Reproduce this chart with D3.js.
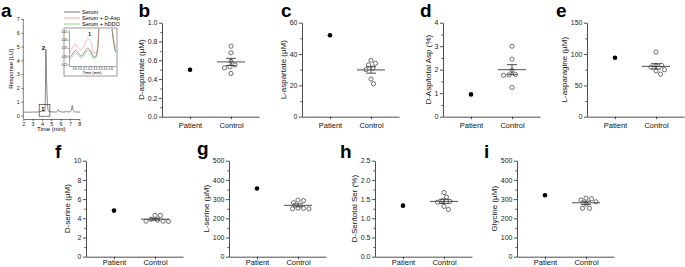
<!DOCTYPE html>
<html lang="en">
<head>
<meta charset="utf-8">
<title>Serum amino acids: patient vs control</title>
<script src="https://cdn.jsdelivr.net/npm/d3@7"></script>
<style>
  body { margin: 0; background: #fff; }
  svg { display: block; font-family: "Liberation Sans", Arial, sans-serif; }
  .axis path, .axis line { stroke: #222; stroke-width: 0.8; }
  .axis text { font-size: 7px; fill: #222; }
  .ytitle { font-size: 8px; fill: #111; }
  .letter { font-size: 19px; font-weight: bold; fill: #000; }
  .chrom .axis text { font-size: 5.5px; }
  .chrom .axis path, .chrom .axis line { stroke-width: 0.6; }
  .inset .axis text { font-size: 3px; }
  .inset .axis path, .inset .axis line { stroke-width: 0.4; }
</style>
</head>
<body>
<div id="chart"></div>
<script>
// ---- data ----
const groups = ["Patient", "Control"];

// panel b-i: one patient value, seven controls
const dAspPatient = 0.50;
const dAspControl = [0.75, 0.68, 0.59, 0.55, 0.53, 0.52, 0.46];
const lAspPatient = 52;
const lAspControl = [36, 34, 33, 31, 30, 24, 21];
const dAspPctPatient = 0.95;
const dAspPctControl = [3.0, 2.45, 1.97, 1.78, 1.76, 1.8, 1.25];
const lAsnPatient = 94;
const lAsnControl = [103, 82, 82, 79, 75, 73, 68];
const dSerPatient = 4.8;
const dSerControl = [4.3, 4.3, 3.9, 3.7, 3.7, 3.68, 3.8];
const lSerPatient = 355;
const lSerControl = [292, 281, 295, 250, 252, 249, 253];
const dSerPctPatient = 1.33;
const dSerPctControl = [1.67, 1.55, 1.46, 1.44, 1.42, 1.31, 1.23];
const glyPatient = 320;
const glyControl = [305, 295, 286, 302, 274, 252, 252];

// y tick labels
const ticksDAsp = [0, 0.2, 0.4, 0.6, 0.8, 1.0];
const ticksLAsp = [0, 20, 40, 60];
const ticksDAspPct = [0, 1, 2, 3, 4];
const ticksLAsn = [0, 50, 100, 150];
const ticksDSer = [0, 2, 4, 6, 8, 10];
const ticksLSer = [0, 100, 200, 300, 400, 500];
const ticksDSerPct = [0, 0.5, 1.0, 1.5, 2.0, 2.5];
const ticksGly = [0, 100, 200, 300, 400, 500];

// panel a: chromatogram (time in min, response in LU)
const chromTime = [2, 2.5, 3, 3.5, 3.9, 4.05, 4.15, 4.22, 4.3, 4.36, 4.42, 4.5, 4.6, 4.7, 5.0, 5.5,
  5.65, 5.75, 5.85, 6.0, 6.2, 6.5, 6.6, 6.7, 7.0, 7.15, 7.25, 7.35, 7.5, 7.8, 8.1];
const chromSerum = [0.25, 0.24, 0.25, 0.25, 0.3, 0.32, 0.33, 0.3, 0.3, 1.2, 4.8, 2.5, 0.8, 0.32, 0.26, 0.25,
  0.3, 0.42, 0.3, 0.27, 0.25, 0.26, 0.33, 0.26, 0.27, 0.4, 0.72, 0.38, 0.26, 0.25, 0.25];
const chromTicksX = [2, 3, 4, 5, 6, 7, 8];
const chromTicksY = [0, 1, 2, 3, 4, 5, 6, 7];

// inset: zoom on peak 1
const insetTime = [3.8, 3.86, 3.92, 3.98, 4.04, 4.1, 4.16, 4.22, 4.28, 4.32, 4.36, 4.4, 4.6, 4.64, 4.68, 4.7];
const insetSerum = [0.29, 0.31, 0.335, 0.32, 0.30, 0.325, 0.35, 0.33, 0.295, 0.30, 0.36, 0.6, 0.6, 0.45, 0.36, 0.33];
const insetDAsp = [0.31, 0.35, 0.375, 0.35, 0.34, 0.37, 0.405, 0.39, 0.32, 0.32, 0.37, 0.6, 0.6, 0.46, 0.38, 0.35];
const insetHDDO = [0.28, 0.295, 0.32, 0.305, 0.29, 0.31, 0.335, 0.32, 0.285, 0.29, 0.35, 0.6, 0.6, 0.44, 0.35, 0.32];
const insetTicksX = [3.9, 4.0, 4.1, 4.2, 4.3, 4.4, 4.5, 4.6];
const insetTicksY = [0.25, 0.3, 0.35, 0.4, 0.45];

const legendNames = ["Serum", "Serum + D-Asp", "Serum + hDDO"];
const legendColors = ["#555", "#f08a8a", "#6cc070"];

// ---- svg ----
const svg = d3.select("#chart").append("svg")
  .attr("width", 685).attr("height", 267);
svg.append("rect").attr("width", 685).attr("height", 267).attr("fill", "#fff");

// ---- scatter panels ----
const panels = [
  { letter: "b", lx: 138.5, ly: 17.2, left: 162, top: 22.7, h: 94, pad: 3, title: "D-aspartate (\u00b5M)", p: dAspPatient, c: dAspControl, ticks: ticksDAsp, fmt: d3.format(".1f") },
  { letter: "c", lx: 281, ly: 17.2, left: 302, top: 22.7, h: 94, pad: 3, title: "L-aspartate (\u00b5M)", p: lAspPatient, c: lAspControl, ticks: ticksLAsp, fmt: d3.format("d") },
  { letter: "d", lx: 420, ly: 17.2, left: 443, top: 22.7, h: 94, pad: 3, title: "D-Asp/total Asp (%)", p: dAspPctPatient, c: dAspPctControl, ticks: ticksDAspPct, fmt: d3.format("d") },
  { letter: "e", lx: 556, ly: 17.2, left: 587, top: 22.7, h: 94, pad: 3, title: "L-asparagine (\u00b5M)", p: lAsnPatient, c: lAsnControl, ticks: ticksLAsn, fmt: d3.format("d") },
  { letter: "f", lx: 55, ly: 158, left: 86, top: 160.7, h: 96, pad: 0.8, title: "D-serine (\u00b5M)", p: dSerPatient, c: dSerControl, ticks: ticksDSer, fmt: d3.format("d") },
  { letter: "g", lx: 197, ly: 155, left: 229, top: 160.7, h: 96, pad: 0.8, title: "L-serine (\u00b5M)", p: lSerPatient, c: lSerControl, ticks: ticksLSer, fmt: d3.format("d") },
  { letter: "h", lx: 340, ly: 158, left: 375, top: 160.7, h: 96, pad: 0.8, title: "D-Ser/total Ser (%)", p: dSerPctPatient, c: dSerPctControl, ticks: ticksDSerPct, fmt: d3.format(".1f") },
  { letter: "i", lx: 484, ly: 158, left: 517, top: 160.7, h: 96, pad: 0.8, title: "Glycine (\u00b5M)", p: glyPatient, c: glyControl, ticks: ticksGly, fmt: d3.format("d") }
];

// simple beeswarm: returns x offsets so circles don't overlap
function swarm(vals, y, dia) {
  const order = vals.map((v, i) => i).sort((a, b) => vals[b] - vals[a]);
  const placed = [];
  const off = new Array(vals.length).fill(0);
  order.forEach(i => {
    const yi = y(vals[i]);
    for (let k = 0; k < 200; k++) {
      const cand = (k % 2 ? 1 : -1) * Math.ceil(k / 2) * 0.5;
      const ok = placed.every(p => (p.x - cand) ** 2 + (p.y - yi) ** 2 >= dia * dia);
      if (ok) { off[i] = cand; placed.push({ x: cand, y: yi }); break; }
    }
  });
  return off;
}

panels.forEach(cfg => {
  svg.append("text").attr("class", "letter")
    .attr("x", cfg.lx).attr("y", cfg.ly).text(cfg.letter);

  const g = svg.append("g").attr("transform", `translate(${cfg.left},${cfg.top})`);
  const yMax = cfg.ticks[cfg.ticks.length - 1];
  const step = cfg.ticks[1] - cfg.ticks[0];
  const y = d3.scaleLinear().domain([0, yMax]).range([cfg.h, 0]);
  const x = d3.scalePoint().domain(groups).range([0, 97]).padding(0.683);

  // minor ticks
  const minor = d3.range(step / 2, yMax, step);
  g.append("g").attr("class", "axis")
    .call(d3.axisLeft(y).tickValues(minor).tickSize(1.6).tickFormat(""))
    .select(".domain").remove();

  const ya = g.append("g").attr("class", "axis")
    .call(d3.axisLeft(y).tickValues(cfg.ticks).tickFormat(cfg.fmt).tickSize(3).tickSizeOuter(0).tickPadding(1.5));

  g.append("g").attr("class", "axis")
    .attr("transform", `translate(0,${cfg.h})`)
    .call(d3.axisBottom(x).tickSize(2.5).tickSizeOuter(0).tickPadding(cfg.pad))
    .selectAll("text").style("font-size", "7.5px").style("fill", "#111");

  const bb = ya.node().getBBox();
  g.append("text").attr("class", "ytitle")
    .attr("transform", `translate(${bb.x - 4},${cfg.h / 2}) rotate(-90)`)
    .attr("text-anchor", "middle")
    .text(cfg.title);

  // mean and SEM
  const m = d3.mean(cfg.c);
  const sem = d3.deviation(cfg.c) / Math.sqrt(cfg.c.length);
  const cx = x("Control");
  g.append("line").attr("x1", cx - 14).attr("x2", cx + 14)
    .attr("y1", y(m)).attr("y2", y(m)).attr("stroke", "#222").attr("stroke-width", 0.8);
  g.append("line").attr("x1", cx).attr("x2", cx)
    .attr("y1", y(m - sem)).attr("y2", y(m + sem)).attr("stroke", "#222").attr("stroke-width", 0.8);
  [m - sem, m + sem].forEach(v => {
    g.append("line").attr("x1", cx - 5).attr("x2", cx + 5)
      .attr("y1", y(v)).attr("y2", y(v)).attr("stroke", "#222").attr("stroke-width", 0.8);
  });

  const offs = swarm(cfg.c, y, 5.2);
  g.selectAll(".ctrl").data(cfg.c).enter().append("circle")
    .attr("class", "ctrl")
    .attr("cx", (d, i) => cx + offs[i])
    .attr("cy", d => y(d))
    .attr("r", 2.1)
    .attr("fill", "none")
    .attr("stroke", "#333")
    .attr("stroke-width", 0.7);

  g.append("circle")
    .attr("cx", x("Patient")).attr("cy", y(cfg.p))
    .attr("r", 2.3).attr("fill", "#000");
});

// ---- panel a: chromatogram ----
svg.append("text").attr("class", "letter").attr("x", 1).attr("y", 17.2).text("a");

const chrom = svg.append("g").attr("class", "chrom");
const cxS = d3.scaleLinear().domain([2, 8]).range([23.3, 79.3]);
const cyS = d3.scaleLinear().domain([0, 7]).range([115.5, 19]);

chrom.append("g").attr("class", "axis")
  .attr("transform", "translate(0,119)")
  .call(d3.axisBottom(cxS).tickValues(chromTicksX).tickFormat(d3.format("d")).tickSize(2).tickSizeOuter(0).tickPadding(1.5));
chrom.append("g").attr("class", "axis")
  .attr("transform", "translate(23.3,0)")
  .call(d3.axisLeft(cyS).tickValues(chromTicksY).tickFormat(d3.format("d")).tickSize(2).tickSizeOuter(0).tickPadding(1.5))
  .select(".domain").attr("d", `M-0,${cyS(7)}V119`);

chrom.append("text").attr("x", 51.3).attr("y", 131).attr("text-anchor", "middle")
  .style("font-size", "6px").text("Time (min)");
chrom.append("text")
  .attr("transform", `translate(12.5,${(cyS(7) + 119) / 2}) rotate(-90)`)
  .attr("text-anchor", "middle").style("font-size", "6px").text("Response [LU]");

const chromLine = d3.line().x((d, i) => cxS(chromTime[i])).y(d => cyS(d)).curve(d3.curveMonotoneX);
chrom.append("path").datum(chromSerum)
  .attr("d", chromLine).attr("fill", "none")
  .attr("stroke", "#555").attr("stroke-width", 0.7);

// box around peak 1 and peak labels
chrom.append("rect")
  .attr("x", cxS(3.7)).attr("y", cyS(0.8))
  .attr("width", cxS(4.85) - cxS(3.7)).attr("height", cyS(-0.05) - cyS(0.8))
  .attr("fill", "none").attr("stroke", "#222").attr("stroke-width", 0.6);
chrom.append("text").attr("x", cxS(3.92)).attr("y", cyS(0.35))
  .style("font-size", "6px").style("font-weight", "bold").text("1");
chrom.append("text").attr("x", cxS(3.98)).attr("y", cyS(4.75))
  .style("font-size", "6px").style("font-weight", "bold").text("2");

// legend
legendNames.forEach((name, i) => {
  const ly = 12 + i * 6;
  chrom.append("line").attr("x1", 64).attr("x2", 80).attr("y1", ly).attr("y2", ly)
    .attr("stroke", legendColors[i]).attr("stroke-width", 0.8);
  chrom.append("text").attr("x", 82).attr("y", ly + 2)
    .style("font-size", "5.5px").text(name);
});

// inset
const inset = chrom.append("g").attr("class", "inset");
inset.append("rect").attr("x", 64).attr("y", 28).attr("width", 53).attr("height", 48)
  .attr("fill", "#fff").attr("stroke", "#555").attr("stroke-width", 0.6);
const ix = d3.scaleLinear().domain([3.8, 4.7]).range([69, 115.5]);
const iy = d3.scaleLinear().domain([0.24, 0.46]).range([66, 30]);
inset.append("clipPath").attr("id", "insetClip")
  .append("rect").attr("x", 69).attr("y", 29).attr("width", 47.5).attr("height", 37.5);
inset.append("g").attr("class", "axis").attr("transform", "translate(69,0)")
  .call(d3.axisLeft(iy).tickValues(insetTicksY).tickFormat(d3.format(".2f")).tickSize(1).tickSizeOuter(0).tickPadding(0.6));
inset.append("g").attr("class", "axis").attr("transform", "translate(0,66)")
  .call(d3.axisBottom(ix).tickValues(insetTicksX).tickFormat(d3.format(".1f")).tickSize(1).tickSizeOuter(0).tickPadding(0.6));
inset.append("text").attr("x", 92).attr("y", 73.5).attr("text-anchor", "middle")
  .style("font-size", "4px").text("Time (min)");
inset.append("text").attr("x", ix(4.2)).attr("y", iy(0.425)).attr("text-anchor", "middle")
  .style("font-size", "5px").style("font-weight", "bold").text("1");

const insetLine = d3.line().x((d, i) => ix(insetTime[i])).y(d => iy(d)).curve(d3.curveMonotoneX);
[insetHDDO, insetSerum, insetDAsp].forEach((series, k) => {
  inset.append("path").datum(series)
    .attr("clip-path", "url(#insetClip)")
    .attr("d", insetLine).attr("fill", "none")
    .attr("stroke", [legendColors[2], legendColors[0], legendColors[1]][k])
    .attr("stroke-width", 0.6);
});
</script>
</body>
</html>
